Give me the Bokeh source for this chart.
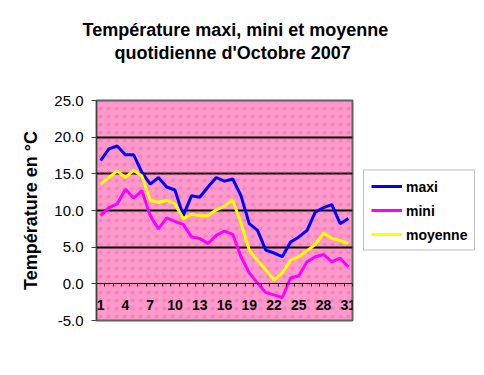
from bokeh.plotting import figure
from bokeh.models import (FixedTicker, PrintfTickFormatter, Legend, LegendItem,
                          Title, BoxAnnotation, Range1d)
from bokeh.embed import file_html
from bokeh.resources import INLINE

days = list(range(1, 32))
maxi = [16.8, 18.4, 18.8, 17.6, 17.6, 15.2, 13.6, 14.5, 13.2, 12.8, 9.3, 12.0, 11.8, 13.2, 14.5, 14.0,
        14.3, 12.0, 8.2, 7.3, 4.6, 4.2, 3.7, 5.7, 6.4, 7.3, 9.8, 10.4, 10.8, 8.2, 8.9]
mini = [9.3, 10.4, 10.9, 12.9, 11.7, 12.7, 9.3, 7.5, 9.0, 8.5, 8.1, 6.4, 6.2, 5.5, 6.6, 7.2,
        6.75, 3.7, 1.5, 0.1, -1.2, -1.5, -1.9, 0.8, 1.1, 3.0, 3.7, 4.0, 3.0, 3.5, 2.3]
moyenne = [13.6, 14.5, 15.4, 14.5, 15.5, 14.7, 11.4, 11.1, 11.4, 10.9, 8.9, 9.5, 9.3, 9.3, 10.1, 10.6,
           11.4, 8.3, 4.6, 3.2, 1.9, 0.5, 1.5, 3.2, 3.7, 4.5, 5.4, 6.9, 6.2, 5.9, 5.5]
x_tick_labels = [1, 4, 7, 10, 13, 16, 19, 22, 25, 28, 31]
y_ticks = [-5, 0, 5, 10, 15, 20, 25]
grid_ticks = [5, 10, 15, 20]
title_line1 = "Température maxi, mini et moyenne"
title_line2 = "quotidienne d'Octobre 2007"
y_title = "Température en °C"

FONT = "Liberation Sans"

p = figure(frame_width=256, frame_height=220, output_backend="svg", toolbar_location=None,
           x_range=Range1d(0.5, 31.5), y_range=Range1d(-5, 25),
           min_border_left=96, min_border_right=132, min_border_top=100, min_border_bottom=55)
p.background_fill_color = "#FF99CC"
p.border_fill_color = "white"
p.outline_line_color = "#606060"
p.outline_line_width = 2

dots = BoxAnnotation(fill_alpha=0, hatch_pattern="dot",
                     hatch_color="#E0508F", hatch_scale=8, hatch_alpha=0.3,
                     line_color=None, level="underlay")
p.add_layout(dots)

# grid
p.xgrid.visible = False
p.ygrid.ticker = FixedTicker(ticks=grid_ticks)
p.ygrid.grid_line_color = "black"
p.ygrid.grid_line_width = 2

# y axis
ya = p.yaxis[0]
ya.ticker = FixedTicker(ticks=y_ticks)
ya.formatter = PrintfTickFormatter(format="%.1f")
ya.major_label_text_font = FONT
ya.major_label_text_font_size = "15px"
ya.major_label_text_color = "black"
ya.major_tick_out = 5
ya.major_tick_in = 0
ya.minor_tick_line_color = None
ya.major_tick_line_color = "#404040"
ya.axis_line_color = "#404040"
ya.major_label_standoff = 8
ya.axis_label = y_title
ya.axis_label_text_font = FONT
ya.axis_label_text_font_size = "18px"
ya.axis_label_text_font_style = "bold"
ya.axis_label_text_color = "black"
ya.axis_label_standoff = 10

# x axis at y = 0
xa = p.xaxis[0]
xa.fixed_location = 0
xa.ticker = FixedTicker(ticks=x_tick_labels, minor_ticks=[d - 0.5 for d in days] + [31.5])
xa.major_tick_line_color = None
xa.major_tick_out = 0
xa.major_tick_in = 0
xa.minor_tick_out = 3
xa.minor_tick_in = 0
xa.minor_tick_line_color = "black"
xa.axis_line_color = "black"
xa.axis_line_width = 1
xa.major_label_text_font = FONT
xa.major_label_text_font_size = "14px"
xa.major_label_text_font_style = "bold"
xa.major_label_text_color = "black"
xa.major_label_standoff = 13

r_max = p.line(days, maxi, line_color="#0000FF", line_width=3)
r_min = p.line(days, mini, line_color="#FF00FF", line_width=3)
r_moy = p.line(days, moyenne, line_color="#FFFF00", line_width=3)

legend = Legend(items=[LegendItem(label="maxi", renderers=[r_max]),
                       LegendItem(label="mini", renderers=[r_min]),
                       LegendItem(label="moyenne", renderers=[r_moy])],
                location="center_left", orientation="vertical",
                label_text_font=FONT, label_text_font_size="14px", label_text_font_style="bold",
                label_text_color="black", glyph_width=31, glyph_height=17, label_height=17,
                label_standoff=4, spacing=7, padding=7, margin=11,
                border_line_color="#808080", border_line_width=1,
                background_fill_color="white", background_fill_alpha=1)
p.add_layout(legend, "right")

# titles (p.title is the outermost line)
p.title.text = title_line1
p.title.align = "left"
p.title.offset = -14
p.title.standoff = -74
p.title.text_font = FONT
p.title.text_font_size = "18px"
p.title.text_font_style = "bold"
p.title.text_color = "black"
t2 = Title(text=title_line2, align="left", offset=18, standoff=76,
           text_font=FONT, text_font_size="18px", text_font_style="bold", text_color="black")
p.add_layout(t2, "above")

open("out.html", "w").write(file_html(p, INLINE))
